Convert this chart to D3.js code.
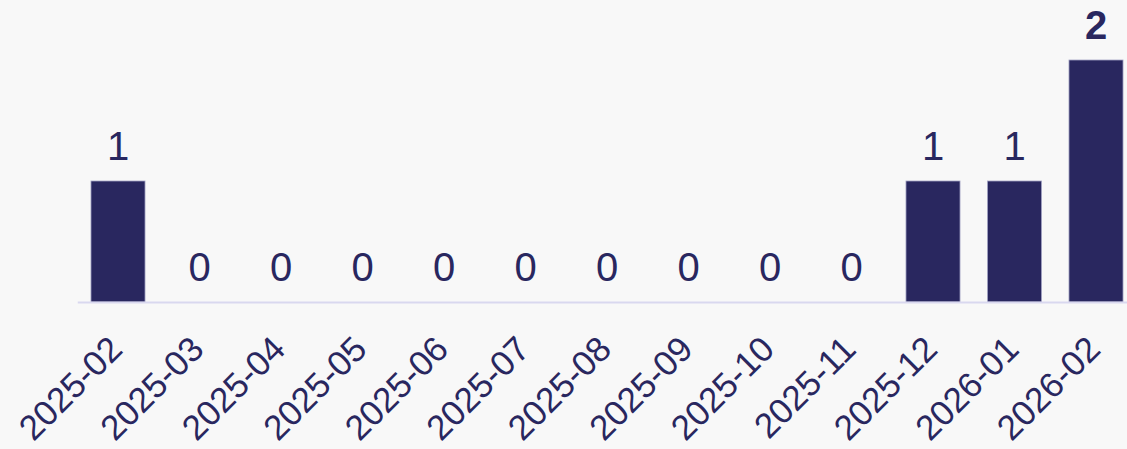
<!DOCTYPE html>
<html><head><meta charset="utf-8">
<script src="https://cdn.jsdelivr.net/npm/d3@7"></script>
<style>html,body{margin:0;padding:0;background:#f8f8f8;overflow:hidden}svg{display:block}</style>
</head><body><div id="chart"></div>
<script>
const categories = ["2025-02","2025-03","2025-04","2025-05","2025-06","2025-07","2025-08","2025-09","2025-10","2025-11","2025-12","2026-01","2026-02"];
const values = [1,0,0,0,0,0,0,0,0,0,1,1,2];
const highlight = ["2026-02"];

const W = 1127, H = 449;
const color = "#29275f";
const svg = d3.select("#chart").append("svg").attr("width", W).attr("height", H)
  .style("font-family", "'Liberation Sans', Arial, sans-serif");
svg.append("rect").attr("width", W).attr("height", H).attr("fill", "#f8f8f8");

const x = d3.scaleBand().domain(categories).range([77.25, 1136.75]).paddingInner(0.337).paddingOuter(0.1685);
const y = d3.scaleLinear().domain([0, 2]).range([302, 60]);

svg.selectAll("rect.bar").data(categories).join("rect").attr("class", "bar")
  .attr("x", d => x(d)).attr("width", x.bandwidth())
  .attr("y", (d, i) => y(values[i])).attr("height", (d, i) => y(0) - y(values[i]))
  .attr("fill", color).attr("stroke", "#a3a3c4").attr("stroke-width", 0.8);

const axis = svg.append("g").attr("transform", `translate(0,${y(0)})`)
  .call(d3.axisBottom(x).tickSize(0).tickPadding(0));
axis.select(".domain").attr("stroke", "#d9d8ef").attr("stroke-width", 2);
axis.selectAll("text")
  .attr("font-size", 35).attr("fill", color)
  .attr("text-anchor", "end")
  .attr("transform", "translate(-11,32) rotate(-45)")
  .attr("dy", "0.7em").attr("y", 0).attr("x", 0);

svg.selectAll("text.val").data(categories).join("text").attr("class", "val")
  .attr("x", d => x(d) + x.bandwidth() / 2)
  .attr("y", (d, i) => y(values[i]) - 21)
  .attr("text-anchor", "middle").attr("fill", color)
  .attr("font-size", 40)
  .attr("font-weight", d => highlight.includes(d) ? "bold" : "normal")
  .text((d, i) => values[i]);
</script></body></html>
